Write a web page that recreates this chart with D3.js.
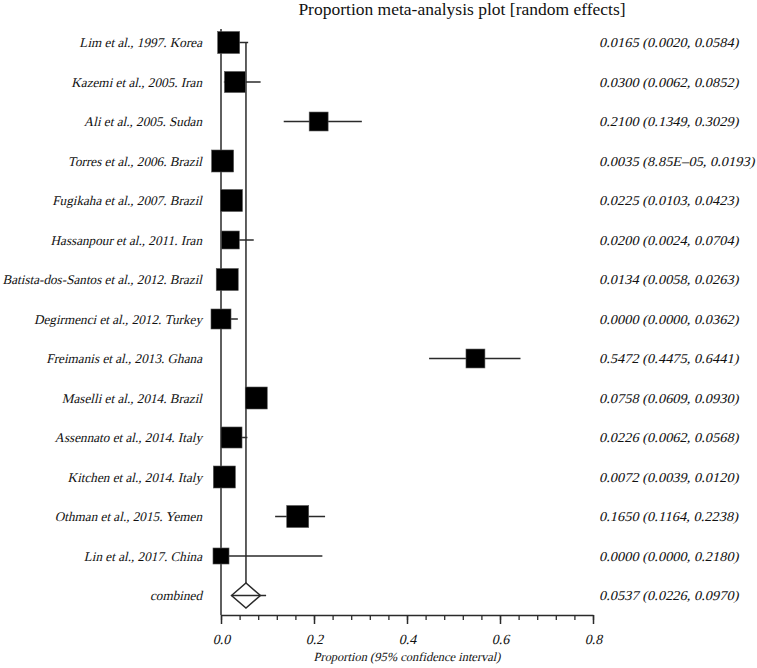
<!DOCTYPE html>
<html>
<head>
<meta charset="utf-8">
<script src="https://cdn.jsdelivr.net/npm/d3@7"></script>
<style>
  html, body { margin: 0; padding: 0; background: #fff; }
  svg { display: block; }
  text { font-family: "Liberation Serif", "Times New Roman", serif; fill: #111; font-style: normal; }
</style>
</head>
<body>
<svg id="chart" width="757" height="668"></svg>
<script>
const studies = [
  "Lim et al., 1997. Korea",
  "Kazemi et al., 2005. Iran",
  "Ali et al., 2005. Sudan",
  "Torres et al., 2006. Brazil",
  "Fugikaha et al., 2007. Brazil",
  "Hassanpour et al., 2011. Iran",
  "Batista-dos-Santos et al., 2012. Brazil",
  "Degirmenci et al., 2012. Turkey",
  "Freimanis et al., 2013. Ghana",
  "Maselli et al., 2014. Brazil",
  "Assennato et al., 2014. Italy",
  "Kitchen et al., 2014. Italy",
  "Othman et al., 2015. Yemen",
  "Lin et al., 2017. China"
];
const proportion = [0.0165, 0.0300, 0.2100, 0.0035, 0.0225, 0.0200, 0.0134, 0.0000, 0.5472, 0.0758, 0.0226, 0.0072, 0.1650, 0.0000];
const lower      = [0.0020, 0.0062, 0.1349, 0.0000885, 0.0103, 0.0024, 0.0058, 0.0000, 0.4475, 0.0609, 0.0062, 0.0039, 0.1164, 0.0000];
const upper      = [0.0584, 0.0852, 0.3029, 0.0193, 0.0423, 0.0704, 0.0263, 0.0362, 0.6441, 0.0930, 0.0568, 0.0120, 0.2238, 0.2180];
const ciLabels = [
  "0.0165 (0.0020, 0.0584)",
  "0.0300 (0.0062, 0.0852)",
  "0.2100 (0.1349, 0.3029)",
  "0.0035 (8.85E\u201305, 0.0193)",
  "0.0225 (0.0103, 0.0423)",
  "0.0200 (0.0024, 0.0704)",
  "0.0134 (0.0058, 0.0263)",
  "0.0000 (0.0000, 0.0362)",
  "0.5472 (0.4475, 0.6441)",
  "0.0758 (0.0609, 0.0930)",
  "0.0226 (0.0062, 0.0568)",
  "0.0072 (0.0039, 0.0120)",
  "0.1650 (0.1164, 0.2238)",
  "0.0000 (0.0000, 0.2180)"
];
// relative random-effects weights (%)
const weights = [8.1, 7.4, 6.0, 8.1, 8.1, 5.4, 8.1, 6.7, 6.0, 8.1, 7.4, 8.1, 8.1, 4.3];
const combinedLabel = "combined";
const combined = { est: 0.0537, lo: 0.0226, hi: 0.0970 };
const combinedText = "0.0537 (0.0226, 0.0970)";
const majorTicks = [0.0, 0.2, 0.4, 0.6, 0.8];
const minorTicks = d3.range(0, 0.8001, 0.04);
const title = "Proportion meta-analysis plot [random effects]";
const xTitle = "Proportion (95% confidence interval)";

const svg = d3.select("#chart");
const x = d3.scaleLinear().domain([0, 0.8]).range([221, 593]);
const y = d3.scaleLinear().domain([0, studies.length]).range([42.5, 595.5]);
const size = d3.scaleSqrt().domain([0, 8.1]).range([0, 22]);
const axisY = 615;
const lineColor = "#2a2a2a";
const SKEW = -13;
const leftSize = "13.2px";
const rightSize = "13.5px";
const rightStretch = 1.07;

function italic(sel, fx, fy, sx = 1) {
  return sel.attr("x", 0).attr("y", 0)
    .attr("transform", (d, i) => `translate(${fx(d, i)},${fy(d, i)}) skewX(${SKEW}) scale(${sx},1)`);
}

// title
svg.append("text")
  .attr("x", 462).attr("y", 15)
  .attr("text-anchor", "middle")
  .style("font-size", "17.5px")
  .text(title);

// zero line
svg.append("line")
  .attr("x1", x(0)).attr("x2", x(0))
  .attr("y1", 29).attr("y2", axisY)
  .attr("stroke", lineColor).attr("stroke-width", 1.5);

// combined estimate vertical line
svg.append("line")
  .attr("x1", x(combined.est)).attr("x2", x(combined.est))
  .attr("y1", y(0)).attr("y2", y(studies.length) - 12.5)
  .attr("stroke", lineColor).attr("stroke-width", 1.5);

const rows = studies.map((s, i) => ({ s, p: proportion[i], lo: lower[i], hi: upper[i], w: weights[i], lab: ciLabels[i], i }));

// CI lines
svg.append("g").selectAll("line").data(rows).join("line")
  .attr("x1", d => x(d.lo)).attr("x2", d => x(d.hi))
  .attr("y1", d => y(d.i)).attr("y2", d => y(d.i))
  .attr("stroke", lineColor).attr("stroke-width", 1.5);

// boxes
svg.append("g").selectAll("rect").data(rows).join("rect")
  .attr("x", d => x(d.p) - size(d.w) / 2)
  .attr("y", d => y(d.i) - size(d.w) / 2)
  .attr("width", d => size(d.w)).attr("height", d => size(d.w))
  .attr("fill", "#000").attr("stroke", "#555").attr("stroke-width", 0.6);

// left labels
italic(svg.append("g").selectAll("text").data(rows).join("text"), () => 202, d => y(d.i) + 4.5)
  .attr("text-anchor", "end")
  .style("font-size", leftSize)
  .text(d => d.s);

// right labels
italic(svg.append("g").selectAll("text").data(rows).join("text"), () => 599, d => y(d.i) + 4.6, rightStretch)
  .style("font-size", rightSize)
  .text(d => d.lab);

// combined row
const cy = y(studies.length);
const half = x(combined.est) - x(combined.lo);
svg.append("line")
  .attr("x1", x(combined.lo)).attr("x2", x(combined.hi))
  .attr("y1", cy).attr("y2", cy)
  .attr("stroke", lineColor).attr("stroke-width", 1.5);
svg.append("path")
  .attr("d", `M${x(combined.est) - half},${cy} L${x(combined.est)},${cy - 12.5} L${x(combined.est) + half},${cy} L${x(combined.est)},${cy + 12.5} Z`)
  .attr("fill", "none").attr("stroke", lineColor).attr("stroke-width", 1.5);
italic(svg.append("text").datum(0), () => 202, () => cy + 4.5)
  .attr("text-anchor", "end")
  .style("font-size", leftSize)
  .text(combinedLabel);
italic(svg.append("text").datum(0), () => 599, () => cy + 4.6, rightStretch)
  .style("font-size", rightSize)
  .text(combinedText);

// axis
const minorAxis = d3.axisBottom(x).tickValues(minorTicks).tickSize(5).tickSizeOuter(0).tickFormat("");
const gMinor = svg.append("g").attr("transform", `translate(0,${axisY})`).call(minorAxis);
gMinor.select(".domain").attr("stroke", lineColor).attr("stroke-width", 1.5);
gMinor.selectAll(".tick line").attr("stroke", lineColor).attr("stroke-width", 1.3);

const majorAxis = d3.axisBottom(x).tickValues(majorTicks).tickSize(9).tickSizeOuter(0).tickFormat(d3.format(".1f"));
const gMajor = svg.append("g").attr("transform", `translate(0,${axisY})`).call(majorAxis);
gMajor.select(".domain").remove();
gMajor.attr("font-family", null).attr("font-size", null);
gMajor.selectAll(".tick line").attr("stroke", lineColor).attr("stroke-width", 1.5);
gMajor.selectAll(".tick text")
  .attr("dy", null).attr("y", 0)
  .attr("transform", `translate(0,29) skewX(${SKEW})`)
  .style("font-size", "14px").attr("fill", "#111");

italic(svg.append("text").datum(0), () => x(0.4), () => 661)
  .attr("text-anchor", "middle")
  .style("font-size", "12.5px")
  .text(xTitle);
</script>
</body>
</html>
